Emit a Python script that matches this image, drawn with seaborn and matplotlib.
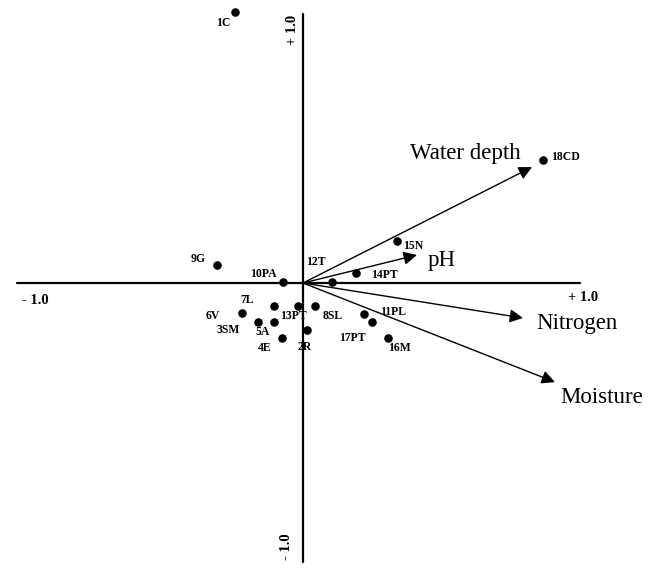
import matplotlib
matplotlib.use("Agg")
import matplotlib.pyplot as plt
import seaborn as sns
import pandas as pd

sns.set_theme(style="white")
plt.rcParams['font.family'] = ['Liberation Serif', 'DejaVu Serif']
plt.rcParams['text.color'] = 'black'

# sites (ordination scores)
sitios = ['1C', '2R', '3SM', '4E', '5A', '6V', '7L', '8SL', '9G', '10PA',
          '11PL', '12T', '13PT', '14PT', '15N', '16M', '17PT', '18CD']
eje1 = [-0.243, 0.014, -0.161, -0.075, -0.104, -0.218, -0.104, 0.043, -0.307, -0.071,
        0.218, 0.104, -0.018, 0.189, 0.336, 0.304, 0.246, 0.857]
eje2 = [0.968, -0.168, -0.139, -0.196, -0.139, -0.107, -0.082, -0.082, 0.064, 0.004,
        -0.111, 0.004, -0.082, 0.036, 0.150, -0.196, -0.139, 0.439]

# environmental vectors
variables = ['Water depth', 'pH', 'Nitrogen', 'Moisture']
var_x = [0.818, 0.407, 0.786, 0.900]
var_y = [0.414, 0.100, -0.125, -0.354]

# label offsets in pixels
off_sitios = {'1C': (-12, -11), '2R': (-2, -17), '3SM': (-30, -8), '4E': (-17, -10),
              '5A': (-11, -10), '6V': (-29, -3), '7L': (-27, 6), '8SL': (18, -10),
              '9G': (-19, 6), '10PA': (-20, 8), '11PL': (29, 2), '12T': (-16, 20),
              '13PT': (-5, -10), '14PT': (29, -2), '15N': (16, -5), '16M': (11, -10),
              '17PT': (-19, -16), '18CD': (23, 3)}
off_vars = {'Water depth': (-67, 14), 'pH': (25, -5), 'Nitrogen': (54, -5), 'Moisture': (47, -15)}

df = pd.DataFrame({'sitio': sitios, 'x': eje1, 'y': eje2})

fig = plt.figure(figsize=(6.55, 5.69), dpi=100)
ax = fig.add_axes([0, 0, 1, 1])
esc = 280.0
ax.set_xlim(-303 / esc, (655 - 303) / esc)
ax.set_ylim(-(569 - 283) / esc, 283 / esc)
ax.axis('off')

# axes through origin
ax.plot([-1.021, 0.989], [0, 0], color='black', lw=1.6, zorder=1)
ax.plot([0, 0], [-0.996, 0.96], color='black', lw=1.6, zorder=1)

sns.scatterplot(data=df, x='x', y='y', ax=ax, color='black', s=38,
                edgecolor='black', linewidth=0, zorder=3, legend=False)

for nombre, xx, yy in zip(sitios, eje1, eje2):
    dx, dy = off_sitios[nombre]
    ax.annotate(nombre, (xx, yy), xytext=(dx, dy), textcoords='offset pixels',
                ha='center', va='center', fontsize=8.5, fontweight='bold',
                color='black', zorder=4)

for nombre, xx, yy in zip(variables, var_x, var_y):
    ax.annotate('', xy=(xx, yy), xytext=(0, 0),
                arrowprops=dict(arrowstyle='-|>', color='black', lw=1.0,
                                mutation_scale=20, shrinkA=0, shrinkB=0), zorder=2)
    dx, dy = off_vars[nombre]
    ax.annotate(nombre, (xx, yy), xytext=(dx, dy), textcoords='offset pixels',
                ha='center', va='center', fontsize=16.5, color='black')

# axis scale labels
ax.text(280 / esc, -14 / esc, '+ 1.0', ha='center', va='center', fontsize=10.5, fontweight='bold')
ax.text(-268 / esc, -17 / esc, '- 1.0', ha='center', va='center', fontsize=10.5, fontweight='bold')
ax.text(-10 / esc, 253 / esc, '+ 1.0', ha='center', va='center', fontsize=10.5,
        fontweight='bold', rotation=90)
ax.text(-16 / esc, -264 / esc, '- 1.0', ha='center', va='center', fontsize=10.5,
        fontweight='bold', rotation=90)

fig.savefig('out.png', dpi=100)
